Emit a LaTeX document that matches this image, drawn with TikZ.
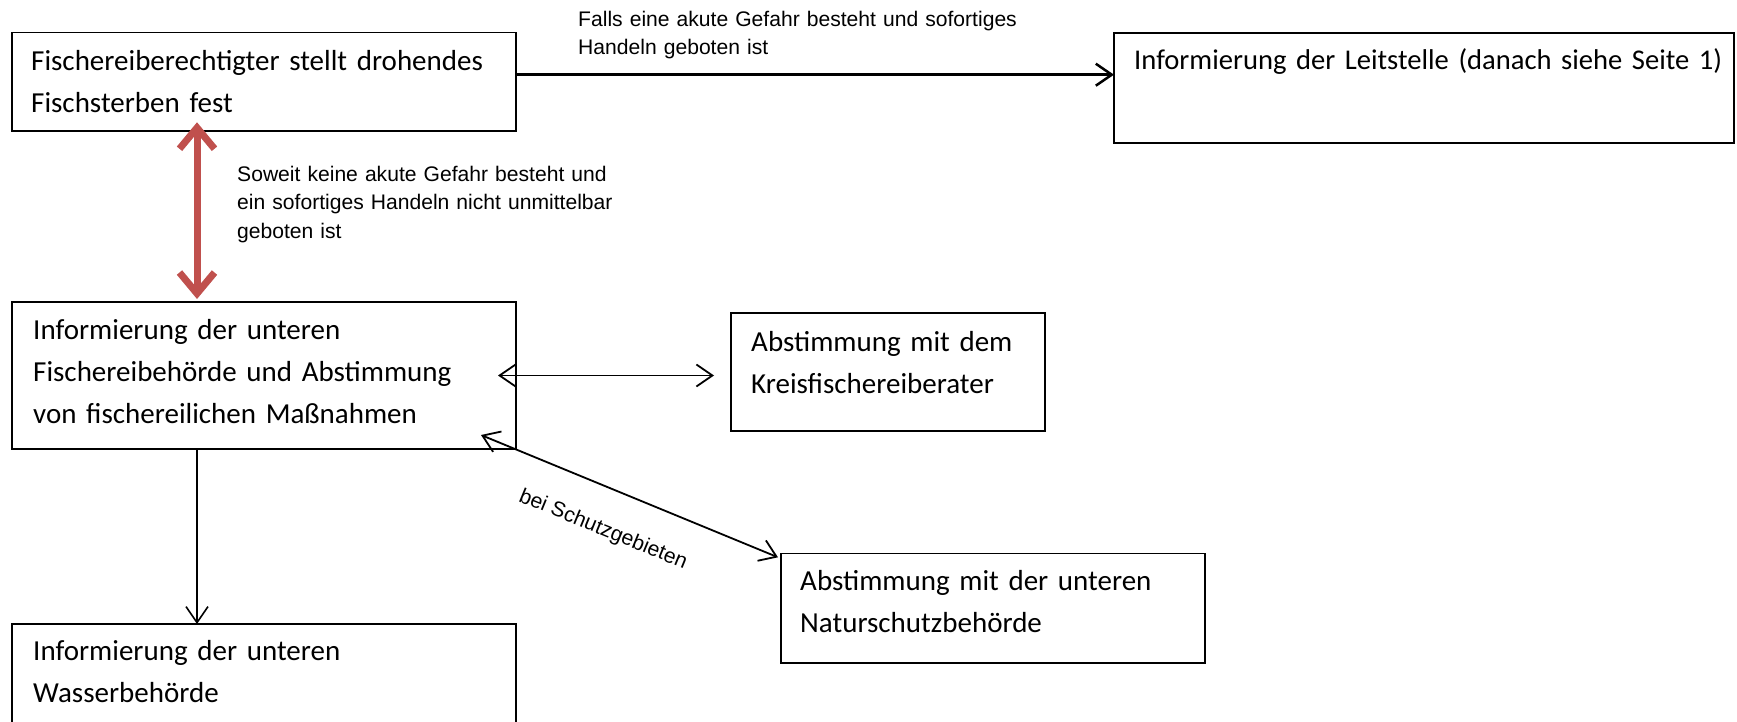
\documentclass[tikz,border=0pt]{standalone}
\usepackage{fontspec}
\setmainfont{Carlito}
\newfontfamily\arialf{Liberation Sans}
\usetikzlibrary{arrows.meta,calc}
\definecolor{redarrow}{RGB}{192,80,77}
\begin{document}
\begin{tikzpicture}[x=1pt,y=-1pt,
  box/.style={draw, line width=1.6pt, inner sep=0pt, outer sep=0pt, anchor=north west},
  boxtext/.style={anchor=base west, inner sep=0pt, align=left, text width=#1, font=\fontsize{29}{42}\selectfont},
  lbl/.style={anchor=base west, inner sep=0pt, align=left, text width=#1, font=\arialf\fontsize{21.1}{28.3}\selectfont},
  conn/.style={line width=1.6pt, -{Straight Barb[length=16pt,width=22pt]}},
  dconn/.style={line width=1.8pt, {Straight Barb[length=16pt,width=22pt]}-{Straight Barb[length=16pt,width=22pt]}},
  redarr/.style={draw=redarrow, line width=7pt, {Straight Barb[length=21pt,width=35pt]}-{Straight Barb[length=21pt,width=35pt]}}
]
\useasboundingbox (0,0) rectangle (1737,722);
\clip (0,0) rectangle (1737,722);
\fill[white] (0,0) rectangle (1737,722);

% boxes
\node[box, minimum width=504pt, minimum height=98.6pt] (b1) at (12,32.7) {};
\node[box, minimum width=620pt, minimum height=110pt] (leit) at (1114,33.3) {};
\node[box, minimum width=504pt, minimum height=147pt] (b2) at (12,302) {};
\node[box, minimum width=314pt, minimum height=118pt] (kreis) at (731,313) {};
\node[box, minimum width=424pt, minimum height=109.4pt] (natur) at (781,553.3) {};
\node[box, minimum width=504pt, minimum height=120pt] (wasser) at (12,624) {};

% box texts
\node[boxtext=480pt] (t1) at (31,70.7) {Fischereiberechtigter stellt drohendes\\Fischsterben fest};
\node[boxtext=600pt, font=\fontsize{28.6}{42}\selectfont] (tleit) at (1134,70) {Informierung der Leitstelle (danach siehe Seite 1)};
\node[boxtext=480pt] (t2) at (33,339) {Informierung der unteren\\Fischereibehörde und Abstimmung\\von fischereilichen Maßnahmen};
\node[boxtext=290pt] (tkreis) at (751,351) {Abstimmung mit dem\\Kreisfischereiberater};
\node[boxtext=400pt] (tnatur) at (800,590) {Abstimmung mit der unteren\\Naturschutzbehörde};
\node[boxtext=480pt] (twasser) at (33,660.7) {Informierung der unteren\\Wasserbehörde};

% labels
\node[lbl=500pt] (l1) at (578,26.7) {Falls eine akute Gefahr besteht und sofortiges\\Handeln geboten ist};
\node[lbl=420pt] (l2) at (237,181.7) {Soweit keine akute Gefahr besteht und\\ein sofortiges Handeln nicht unmittelbar\\geboten ist};
\node[font=\arialf\fontsize{21.1}{26}\selectfont, rotate=-22.3, inner sep=0pt] (l3) at (603,530) {bei Schutzgebieten};

% connectors
\coordinate (ax) at (197,0);
\draw[conn, line width=2.5pt] (b1.east |- 0,74.7) -- (leit.west |- 0,74.7);
\draw[dconn] ($(b2.east)+(-18,0)$) -- ($(kreis.west |- b2.east)+(-17,0)$);
\draw[dconn] ($(b2.south east)+(-35,-14)$) -- ($(natur.north west)+(-3,4)$);
\draw[conn] (b2.south -| ax) -- (wasser.north -| ax);
\draw[redarr] ($(b1.south -| ax)+(0,-9)$) -- ($(b2.north -| ax)+(0,-3)$);
\end{tikzpicture}
\end{document}
